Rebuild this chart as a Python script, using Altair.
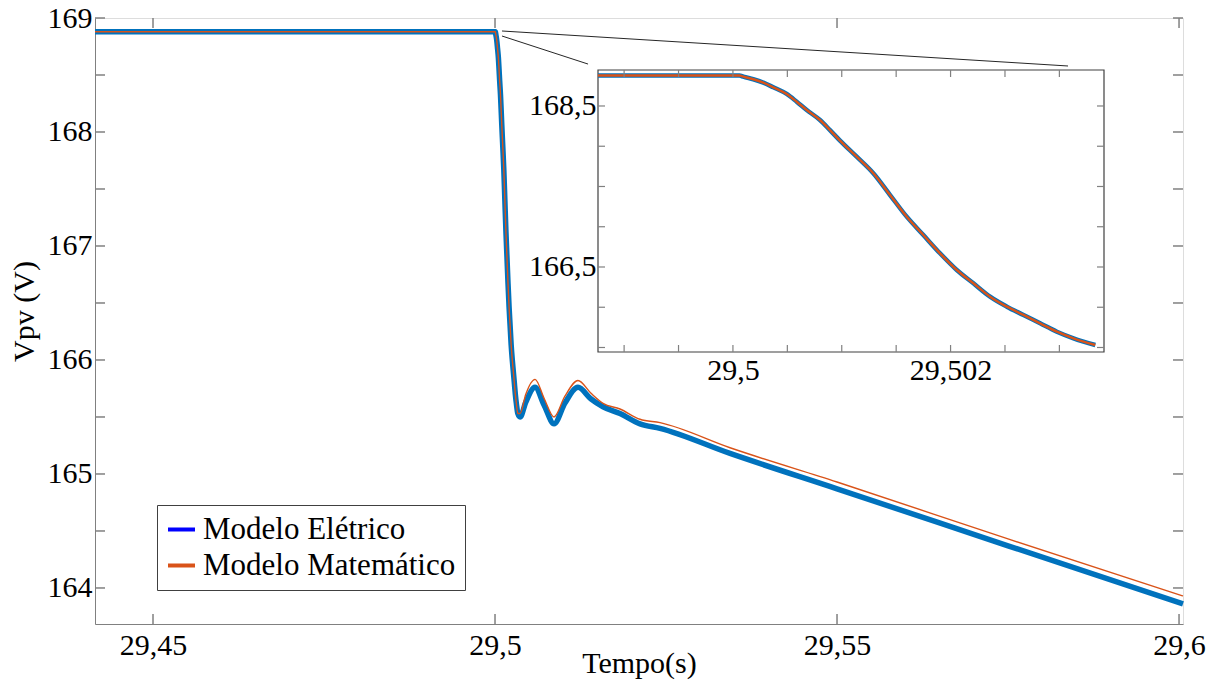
import altair as alt
import pandas as pd

FONT = "Liberation Serif"
BLUE = "#0072BD"
ORANGE = "#D95319"
LEGEND_BLUE = "#0000FF"
GREY = "#808080"
DARK = "#262626"

# ---- axis domains ----
main_x_domain = [29.44152, 29.60058]
main_y_domain = [163.684, 169.0]
inset_x_domain = [29.49876, 29.50341]
inset_y_domain = [165.444, 168.947]

# ---- tick values ----
main_x_ticks = [29.45, 29.5, 29.55, 29.6]
main_y_labels = [164, 165, 166, 167, 168, 169]
main_y_ticks = [164, 164.5, 165, 165.5, 166, 166.5, 167, 167.5, 168, 168.5, 169]
inset_x_labels = [29.5, 29.502]
inset_x_ticks = [29.499, 29.4995, 29.5, 29.5005, 29.501, 29.5015, 29.502, 29.5025, 29.503]
inset_y_labels = [166.5, 168.5]
inset_y_ticks = [165.5, 166.0, 166.5, 167.0, 167.5, 168.0, 168.5]

# ---- voltage drop (both models coincide, shown in the inset) ----
drop_t = [29.49876, 29.50006, 29.500095, 29.500187, 29.500279, 29.500371, 29.500494,
          29.500586, 29.500678, 29.5008, 29.500892, 29.500984, 29.501137, 29.50129,
          29.501444, 29.501597, 29.50175, 29.501903, 29.502057, 29.50221, 29.502363,
          29.502517, 29.50267, 29.502823, 29.502977, 29.50313, 29.50333]
drop_v = [168.88, 168.88, 168.864, 168.832, 168.79, 168.732, 168.649,
          168.553, 168.45, 168.326, 168.20, 168.07, 167.87, 167.664,
          167.394, 167.125, 166.897, 166.67, 166.463, 166.297, 166.131,
          166.007, 165.904, 165.80, 165.696, 165.614, 165.531]

# ---- before the step ----
start_t = [29.44152]
start_v = [168.88]

# ---- after the drop (main view) ----
tail_t = [29.50366, 29.5045, 29.50585, 29.5072, 29.50863, 29.5102, 29.51213, 29.514,
          29.51579, 29.51827, 29.5212, 29.52412, 29.53436, 29.55, 29.575, 29.60058]
blue_tail_v = [165.50, 165.63, 165.76, 165.60, 165.44, 165.62, 165.76, 165.66,
               165.59, 165.53, 165.44, 165.40, 165.18, 164.87, 164.37, 163.86]
orange_tail_v = [165.53, 165.70, 165.83, 165.66, 165.50, 165.68, 165.82, 165.71,
                 165.62, 165.57, 165.48, 165.45, 165.23, 164.93, 164.43, 163.93]

# ---- zoom connector lines (main coordinates) ----
conn_t1 = [29.50102, 29.50102]
conn_v1 = [168.886, 168.842]
conn_t2 = [29.58377, 29.51360]
conn_v2 = [168.579, 168.596]

series_names = ["Modelo Elétrico", "Modelo Matemático"]
series_colors = [LEGEND_BLUE, ORANGE]

W, H = 1088, 606
INSET_L, INSET_R, INSET_T, INSET_B = 503, 1009, 52, 334

blue_df = pd.DataFrame({"t": start_t + drop_t + tail_t, "v": start_v + drop_v + blue_tail_v})
orange_df = pd.DataFrame({"t": start_t + drop_t + tail_t, "v": start_v + drop_v + orange_tail_v})
inset_df = pd.DataFrame({"t": drop_t, "v": drop_v})
conn_df = pd.DataFrame({"t": conn_t1, "v": conn_v1, "t2": conn_t2, "v2": conn_v2})
mxt_df = pd.DataFrame({"t": main_x_ticks})
myt_df = pd.DataFrame({"v": main_y_ticks})
ixt_df = pd.DataFrame({"t": inset_x_ticks})
iyt_df = pd.DataFrame({"v": inset_y_ticks})
legend_df = pd.DataFrame({"s": series_names, "t": [drop_t[0]] * 2, "v": [drop_v[0]] * 2})

mxs = alt.Scale(domain=main_x_domain, nice=False, zero=False)
mys = alt.Scale(domain=main_y_domain, nice=False, zero=False)
ixs = alt.Scale(domain=inset_x_domain, range=[INSET_L, INSET_R], nice=False, zero=False)
iys = alt.Scale(domain=inset_y_domain, range=[INSET_B, INSET_T], nice=False, zero=False)

txt = dict(labelFont=FONT, labelFontSize=30, labelColor="black", labelFontWeight="normal",
           titleFont=FONT, titleFontSize=30, titleColor="black", titleFontWeight="normal")

main_xaxis = alt.Axis(values=main_x_ticks, labelExpr="replace(format(datum.value, '.2~f'), '.', ',')",
                      title="Tempo(s)", ticks=False, tickSize=0, grid=False, domainColor=GREY,
                      labelPadding=6, titlePadding=-12, labelFlush=False, **txt)
main_yaxis = alt.Axis(values=main_y_labels, labelExpr="format(datum.value, '.0f')",
                      title="Vpv (V)", ticks=False, tickSize=0, grid=False, domainColor=GREY,
                      labelPadding=3, titlePadding=8, titleY=293, labelFlush=False, **txt)
inset_xaxis = alt.Axis(orient="bottom", offset=-(H - INSET_B), values=inset_x_labels,
                       labelExpr="replace(format(datum.value, '.3~f'), '.', ',')",
                       title=None, ticks=False, tickSize=0, grid=False, domain=False,
                       labelPadding=3, labelFlush=False, **txt)
inset_yaxis = alt.Axis(orient="left", offset=-INSET_L, values=inset_y_labels,
                       labelExpr="replace(format(datum.value, '.1~f'), '.', ',')",
                       title=None, ticks=False, tickSize=0, grid=False, domain=False,
                       labelPadding=2, labelFlush=False, **txt)

MX = alt.X("t:Q", scale=mxs, axis=main_xaxis)
MY = alt.Y("v:Q", scale=mys, axis=main_yaxis)
IX = alt.X("t:Q", scale=ixs, axis=inset_xaxis)
IY = alt.Y("v:Q", scale=iys, axis=inset_yaxis)

blue_line = alt.Chart(blue_df).mark_line(color=BLUE, strokeWidth=5.5, interpolate="monotone").encode(x=MX, y=MY)
orange_line = alt.Chart(orange_df).mark_line(color=ORANGE, strokeWidth=1.4, interpolate="monotone").encode(x=MX, y=MY)
connectors = alt.Chart(conn_df).mark_rule(color=DARK, strokeWidth=1).encode(
    x=MX, y=MY, x2="t2:Q", y2="v2:Q")
mxt_bottom = alt.Chart(mxt_df).mark_rule(color=GREY, strokeWidth=1.5).encode(
    x=MX, y=alt.value(H), y2=alt.value(H - 10))
mxt_top = alt.Chart(mxt_df).mark_rule(color=GREY, strokeWidth=1.5).encode(
    x=MX, y=alt.value(0), y2=alt.value(10))
myt_left = alt.Chart(myt_df).mark_rule(color=GREY, strokeWidth=1.5).encode(
    y=MY, x=alt.value(0), x2=alt.value(10))
myt_right = alt.Chart(myt_df).mark_rule(color=GREY, strokeWidth=1.5).encode(
    y=MY, x=alt.value(W), x2=alt.value(W - 10))
legend_layer = alt.Chart(legend_df).mark_line(strokeWidth=4).encode(
    x=MX, y=MY,
    color=alt.Color("s:N", scale=alt.Scale(domain=series_names, range=series_colors),
                    legend=alt.Legend(orient="none", legendX=62, legendY=487, title=None,
                                      strokeColor="#404040", fillColor="white", padding=9,
                                      symbolType="stroke", symbolSize=729, symbolStrokeWidth=4,
                                      labelFont=FONT, labelFontSize=31, labelColor="black",
                                      labelFontWeight="normal",
                                      labelOffset=6, rowPadding=4, labelLimit=400)))

main = alt.layer(blue_line, orange_line, connectors, mxt_bottom, mxt_top, myt_left, myt_right, legend_layer)

frame_df = pd.DataFrame({"a": [0]})
inset_frame = alt.Chart(frame_df).mark_rect(fill="white", stroke="#404040", strokeWidth=1.2).encode(
    x=alt.value(INSET_L), x2=alt.value(INSET_R), y=alt.value(INSET_T), y2=alt.value(INSET_B))
inset_blue = alt.Chart(inset_df).mark_line(color=BLUE, strokeWidth=4.5, interpolate="monotone").encode(x=IX, y=IY)
inset_orange = alt.Chart(inset_df).mark_line(color=ORANGE, strokeWidth=2.5, interpolate="monotone").encode(x=IX, y=IY)
ixt_bottom = alt.Chart(ixt_df).mark_rule(color=GREY, strokeWidth=1.2).encode(
    x=IX, y=alt.value(INSET_B), y2=alt.value(INSET_B - 7))
ixt_top = alt.Chart(ixt_df).mark_rule(color=GREY, strokeWidth=1.2).encode(
    x=IX, y=alt.value(INSET_T), y2=alt.value(INSET_T + 7))
iyt_left = alt.Chart(iyt_df).mark_rule(color=GREY, strokeWidth=1.2).encode(
    y=IY, x=alt.value(INSET_L), x2=alt.value(INSET_L + 7))
iyt_right = alt.Chart(iyt_df).mark_rule(color=GREY, strokeWidth=1.2).encode(
    y=IY, x=alt.value(INSET_R), x2=alt.value(INSET_R - 7))

inset = alt.layer(inset_frame, inset_blue, inset_orange, ixt_bottom, ixt_top, iyt_left, iyt_right)

chart = alt.layer(main, inset).resolve_scale(x="independent", y="independent").properties(
    width=W, height=H,
    padding={"left": 95, "top": 18, "right": 34, "bottom": 60},
    autosize="none",
    background="white",
).configure_view(stroke=DARK, strokeWidth=1.2).configure(font=FONT).configure_axis(
    labelFont=FONT, titleFont=FONT,
).configure_legend(labelFont=FONT)

chart.save("out.html", embed_options={"renderer": "svg", "actions": False})
